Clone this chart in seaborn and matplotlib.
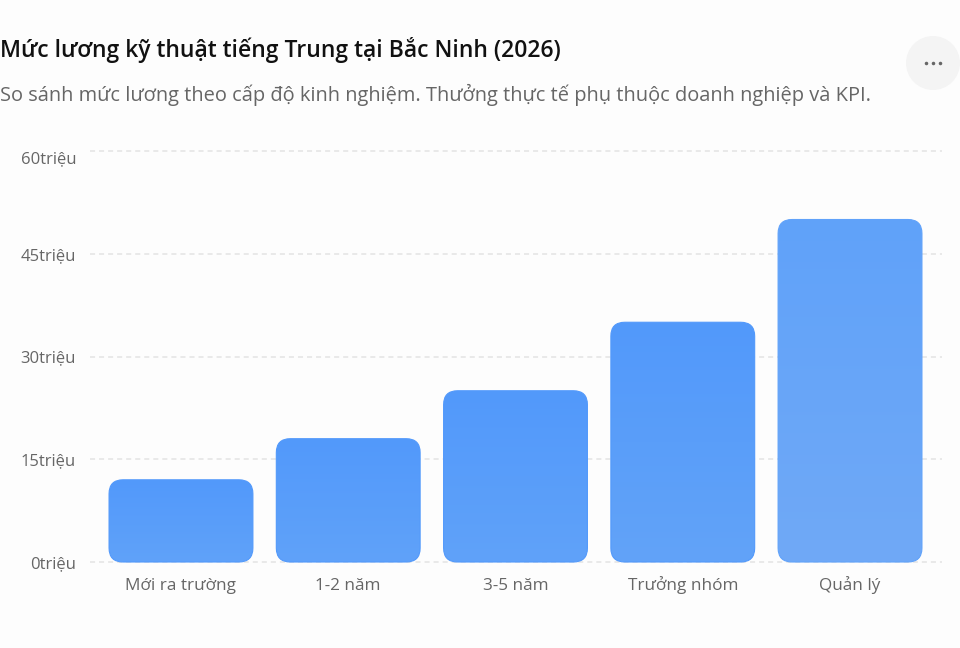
import matplotlib
matplotlib.use("Agg")
import matplotlib.pyplot as plt
import numpy as np
import pandas as pd
import seaborn as sns
from matplotlib.colors import LinearSegmentedColormap
from matplotlib.patches import Circle, FancyBboxPatch

# --- Data ---
levels = ["Mới ra trường", "1-2 năm", "3-5 năm", "Trưởng nhóm", "Quản lý"]
salaries = [12, 18, 25, 35, 50]
y_ticks = [0, 15, 30, 45, 60]
y_labels = ["0triệu", "15triệu", "30triệu", "45triệu", "60triệu"]
title = "Mức lương kỹ thuật tiếng Trung tại Bắc Ninh (2026)"
subtitle = "So sánh mức lương theo cấp độ kinh nghiệm. Thưởng thực tế phụ thuộc doanh nghiệp và KPI."

# gradient colours per bar (top, bottom)
bar_colors = [("#5299fb", "#60a2f9"), ("#5299fb", "#60a2f9"), ("#5299fb", "#60a2f9"),
              ("#5299fb", "#62a3f8"), ("#60a2fa", "#70a9f6")]

BG = "#fdfdfd"
W, H = 960, 648
L, R, T, B = 90, 942, 151, 562

sns.set_theme(style="white")
plt.rcParams["font.family"] = ["Open Sans", "DejaVu Sans"]

fig = plt.figure(figsize=(W / 100, H / 100), dpi=100, facecolor=BG)
ax = fig.add_axes([L / W, 1 - B / H, (R - L) / W, (B - T) / H], facecolor="none")

df = pd.DataFrame({"level": levels, "salary": salaries})
sns.barplot(data=df, x="level", y="salary", color="#5099fb", width=0.86, ax=ax, zorder=2)

step = 167.3
ax.set_xlabel("")
ax.set_ylabel("")
ax.set_yticks(y_ticks, y_labels)
ax.tick_params(axis="x", length=0, pad=20.2, labelsize=12.3, labelcolor="#666666")
ax.tick_params(axis="y", length=0, pad=10, labelsize=12, labelcolor="#666666")
for lab in ax.get_xticklabels():
    lab.set_verticalalignment("baseline")
ax.get_yticklabels()[-1].set_verticalalignment("top")
sns.despine(ax=ax, left=True, bottom=True)
ax.grid(False)
for v in y_ticks:
    ax.axhline(v, color="#e9e9e9", lw=1.4, dashes=(2.6, 2.05), zorder=1, clip_on=False)

# rounded bars with a vertical gradient, geometry taken from seaborn's bars
px_per_y = (B - T) / 60
for bar, (top, bottom) in zip(list(ax.patches), bar_colors):
    x0, y0, w, h = bar.get_x(), bar.get_y(), bar.get_width(), bar.get_height()
    bar.set_visible(False)
    box = FancyBboxPatch((x0, y0), w, h, boxstyle=f"round,pad=0,rounding_size={14 / step}",
                         mutation_aspect=step / px_per_y, facecolor="none",
                         edgecolor=top, linewidth=0.8, zorder=3, clip_on=False)
    ax.add_patch(box)
    cmap = LinearSegmentedColormap.from_list("bar", [top, bottom])
    im = ax.imshow(np.linspace(0, 1, 256).reshape(-1, 1), cmap=cmap, aspect="auto",
                   extent=(x0, x0 + w, y0, y0 + h), origin="upper", zorder=2.5)
    im.set_clip_path(box)
ax.set_xlim(-(181 - L) / step, 4 + (R - 850) / step)
ax.set_ylim(0, 60)

fig.text(0, 1 - 50 / H, title, fontsize=16.5, fontweight="semibold", color="#111111", va="center", ha="left")
fig.text(0, 1 - 94.5 / H, subtitle, fontsize=14.4, color="#666666", va="center", ha="left")

# menu button, top right
overlay = fig.add_axes([0, 0, 1, 1], facecolor="none")
overlay.set_xlim(0, W)
overlay.set_ylim(H, 0)
overlay.axis("off")
overlay.add_patch(Circle((933, 63), 27, facecolor="#f4f4f4", edgecolor="none"))
overlay.scatter([926, 933, 940], [63, 63, 63], s=6.5, color="#666666", linewidths=0)

fig.savefig("out.png", dpi=100, facecolor=BG)
